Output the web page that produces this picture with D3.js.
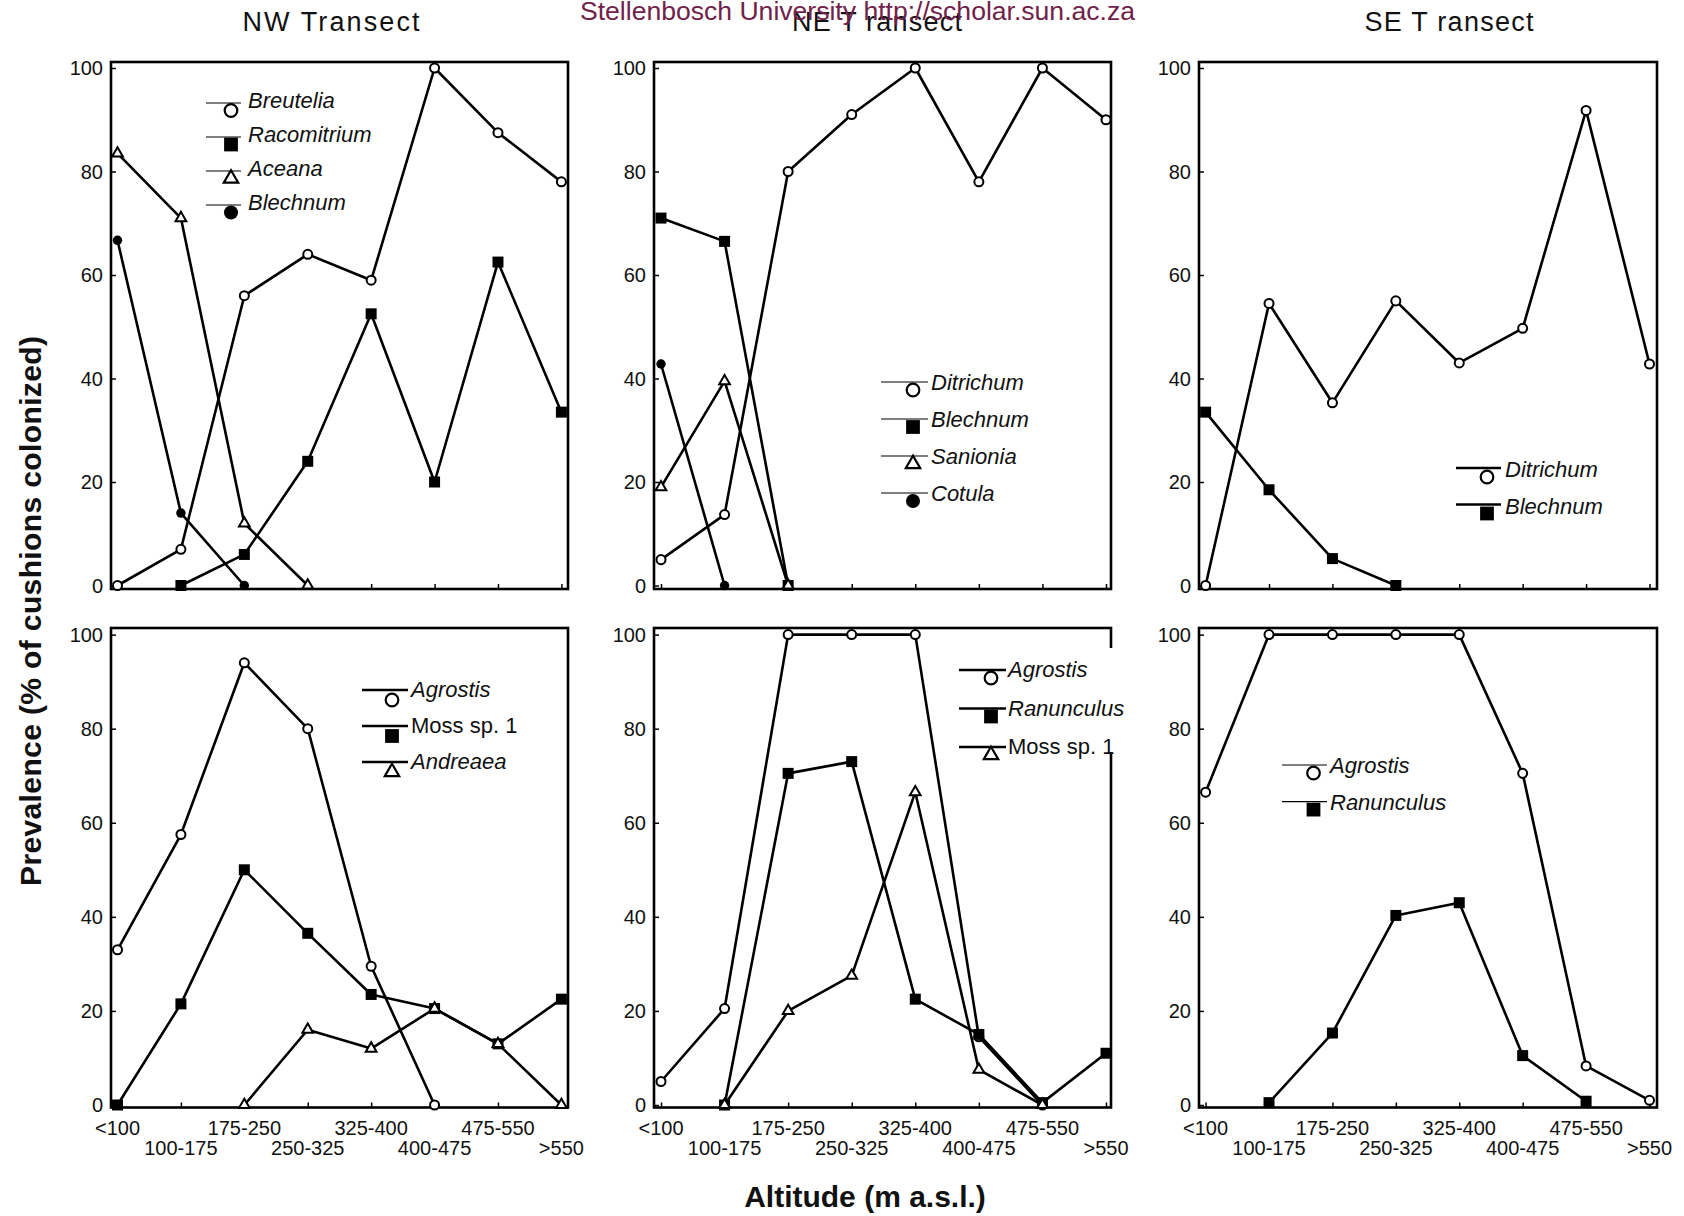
<!DOCTYPE html>
<html>
<head>
<meta charset="utf-8">
<script src="https://cdn.jsdelivr.net/npm/d3@7"></script>
<style>
  html, body { margin: 0; padding: 0; background: #fff; }
  svg { display: block; font-family: "Liberation Sans", Arial, sans-serif; }
</style>
</head>
<body>
<svg id="chart" width="1684" height="1216"></svg>
<script>
// Altitude classes (m a.s.l.) and y ticks shared by all six panels
const altitudes = ['<100', '100-175', '175-250', '250-325', '325-400', '400-475', '475-550', '>550'];
const yTicks = [0, 20, 40, 60, 80, 100];

// NW transect, upper panel (% of cushions colonized)
const nwBreutelia   = [0, 7, 56, 64, 59, 100, 87.5, 78];
const nwRacomitrium = [null, 0, 6, 24, 52.5, 20, 62.5, 33.5];
const nwAceana      = [83.5, 71, 12, 0, null, null, null, null];
const nwBlechnum    = [66.7, 14, 0, null, null, null, null, null];

// NE transect, upper panel
const neDitrichum = [5, 13.7, 80, 91, 100, 78, 100, 90];
const neBlechnum  = [71, 66.5, 0, null, null, null, null, null];
const neSanionia  = [19, 39.5, 0, null, null, null, null, null];
const neCotula    = [42.8, 0, null, null, null, null, null, null];

// SE transect, upper panel
const seDitrichum = [0, 54.5, 35.3, 55, 43, 49.7, 91.8, 42.8];
const seBlechnum  = [33.5, 18.5, 5.2, 0, null, null, null, null];

// NW transect, lower panel
const nwAgrostis = [33, 57.5, 94, 80, 29.5, 0, null, null];
const nwMoss     = [0, 21.5, 50, 36.5, 23.5, 20.5, 13, 22.5];
const nwAndreaea = [null, null, 0, 16, 12, 20.5, 13, 0];

// NE transect, lower panel
const neAgrostis   = [5, 20.5, 100, 100, 100, 14.5, 0, null];
const neRanunculus = [null, 0, 70.5, 73, 22.5, 15, 0.5, 11];
const neMoss       = [null, 0, 20, 27.5, 66.5, 7.5, 0, null];

// SE transect, lower panel
const seAgrostis   = [66.5, 100, 100, 100, 100, 70.5, 8.3, 1];
const seRanunculus = [null, 0.5, 15.3, 40.3, 43, 10.5, 0.8, null];

// ── Layout ──
const rows = [
  { frameY: [62, 589], yRange: [585.5, 68] },
  { frameY: [628, 1107.5], yRange: [1105, 634.6] }
];
const cols = [
  { frameX: [111, 568], xRange: [117.5, 561.4] },
  { frameX: [654, 1111], xRange: [661, 1106] },
  { frameX: [1199, 1657], xRange: [1205.6, 1649.5] }
];

const symbols = {
  openCircle:   { type: d3.symbolCircle,   fill: '#fff', size: 64,  legendSize: 125 },
  filledSquare: { type: d3.symbolSquare,   fill: '#000', size: 121, legendSize: 190 },
  openTriangle: { type: d3.symbolTriangle, fill: '#fff', size: 50,  legendSize: 90 },
  filledCircle: { type: d3.symbolCircle,   fill: '#000', size: 70,  legendSize: 155 }
};

const panels = [
  { row: 0, col: 0, title: 'NW Transect', titleX: 331, titleLen: 177,
    series: [
      { name: 'Breutelia', values: nwBreutelia, symbol: 'openCircle', italic: true },
      { name: 'Racomitrium', values: nwRacomitrium, symbol: 'filledSquare', italic: true },
      { name: 'Aceana', values: nwAceana, symbol: 'openTriangle', italic: true },
      { name: 'Blechnum', values: nwBlechnum, symbol: 'filledCircle', italic: true }
    ],
    legend: { x0: 206, x1: 241, y: 103, step: 34, mx: 231, mdy: 7.5, tx: 248, tdy: 5, lw: 1.2 } },
  { row: 0, col: 1, title: 'NE T ransect', titleX: 877, titleLen: 170,
    series: [
      { name: 'Ditrichum', values: neDitrichum, symbol: 'openCircle', italic: true },
      { name: 'Blechnum', values: neBlechnum, symbol: 'filledSquare', italic: true },
      { name: 'Sanionia', values: neSanionia, symbol: 'openTriangle', italic: true },
      { name: 'Cotula', values: neCotula, symbol: 'filledCircle', italic: true }
    ],
    legend: { x0: 881, x1: 928, y: 382, step: 37, mx: 913, mdy: 8, tx: 931, tdy: 8, lw: 1.2 } },
  { row: 0, col: 2, title: 'SE T ransect', titleX: 1449, titleLen: 169,
    series: [
      { name: 'Ditrichum', values: seDitrichum, symbol: 'openCircle', italic: true },
      { name: 'Blechnum', values: seBlechnum, symbol: 'filledSquare', italic: true }
    ],
    legend: { x0: 1456, x1: 1501, y: 468, step: 36.5, mx: 1487, mdy: 9, tx: 1505, tdy: 9, lw: 2.5 } },
  { row: 1, col: 0,
    series: [
      { name: 'Agrostis', values: nwAgrostis, symbol: 'openCircle', italic: true },
      { name: 'Moss sp. 1', values: nwMoss, symbol: 'filledSquare', italic: false },
      { name: 'Andreaea', values: nwAndreaea, symbol: 'openTriangle', italic: true }
    ],
    legend: { x0: 362, x1: 408, y: 690, step: 36, mx: 392, mdy: 10, tx: 411, tdy: 7, lw: 2.5 } },
  { row: 1, col: 1,
    series: [
      { name: 'Agrostis', values: neAgrostis, symbol: 'openCircle', italic: true },
      { name: 'Ranunculus', values: neRanunculus, symbol: 'filledSquare', italic: true },
      { name: 'Moss sp. 1', values: neMoss, symbol: 'openTriangle', italic: false }
    ],
    legend: { x0: 959, x1: 1006, y: 670, step: 38.5, mx: 991, mdy: 8, tx: 1008, tdy: 7, lw: 2.5,
              box: [955, 648, 185, 104] } },
  { row: 1, col: 2,
    series: [
      { name: 'Agrostis', values: seAgrostis, symbol: 'openCircle', italic: true },
      { name: 'Ranunculus', values: seRanunculus, symbol: 'filledSquare', italic: true }
    ],
    legend: { x0: 1282, x1: 1327, y: 765, step: 36.6, mx: 1313.5, mdy: 8, tx: 1330, tdy: 8, lw: 1.2 } }
];

const svg = d3.select('#chart');

function drawPanel(p) {
  const r = rows[p.row];
  const c = cols[p.col];
  const g = svg.append('g');

  const x = d3.scalePoint().domain(altitudes).range(c.xRange);
  const y = d3.scaleLinear().domain([0, 100]).range(r.yRange);

  // Frame
  g.append('rect')
    .attr('x', c.frameX[0]).attr('y', r.frameY[0])
    .attr('width', c.frameX[1] - c.frameX[0])
    .attr('height', r.frameY[1] - r.frameY[0])
    .attr('fill', 'none').attr('stroke', '#000').attr('stroke-width', 2.6);

  // Y axis: ticks inside the frame, labels outside
  const yAxis = g.append('g').attr('transform', `translate(${c.frameX[0]},0)`)
    .call(d3.axisRight(y).tickValues(yTicks).tickSize(5).tickFormat(''));
  yAxis.select('.domain').remove();
  yAxis.selectAll('line').attr('stroke-width', 1.5);

  g.selectAll('.ylab')
    .data(yTicks)
    .enter()
    .append('text')
    .attr('x', c.frameX[0] - 8)
    .attr('y', d => y(d))
    .attr('dy', '0.36em')
    .attr('text-anchor', 'end')
    .attr('font-size', '20px')
    .attr('fill', '#111')
    .text(d => d);

  // X axis: ticks pointing up from the bottom edge
  const xAxis = g.append('g').attr('transform', `translate(0,${r.frameY[1]})`)
    .call(d3.axisTop(x).tickSize(5).tickFormat(''));
  xAxis.select('.domain').remove();
  xAxis.selectAll('line').attr('stroke-width', 1.5);

  if (p.row === 1) {
    g.selectAll('.xlab')
      .data(altitudes)
      .enter()
      .append('text')
      .attr('x', d => x(d))
      .attr('y', (d, i) => i % 2 === 0 ? 1135 : 1155)
      .attr('text-anchor', 'middle')
      .attr('font-size', '20px')
      .attr('fill', '#111')
      .text(d => d);
  }

  if (p.title) {
    g.append('text')
      .attr('x', p.titleX).attr('y', 31)
      .attr('text-anchor', 'middle')
      .attr('font-size', '27px')
      .attr('textLength', p.titleLen)
      .attr('lengthAdjust', 'spacing')
      .attr('fill', '#111')
      .text(p.title);
  }

  // Lines
  const line = d3.line()
    .defined(d => d.v !== null)
    .x(d => x(d.cat))
    .y(d => y(d.v));

  const pts = p.series.map(s => s.values.map((v, i) => ({ cat: altitudes[i], v })));

  pts.forEach(data => {
    g.append('path')
      .datum(data)
      .attr('fill', 'none')
      .attr('stroke', '#000')
      .attr('stroke-width', 2.6)
      .attr('stroke-linejoin', 'round')
      .attr('d', line);
  });

  // Markers
  p.series.forEach((s, si) => {
    const sym = symbols[s.symbol];
    g.selectAll(`.pt-${si}`)
      .data(pts[si].filter(d => d.v !== null))
      .enter()
      .append('path')
      .attr('transform', d => `translate(${x(d.cat)},${y(d.v)})`)
      .attr('d', d3.symbol().type(sym.type).size(sym.size))
      .attr('fill', sym.fill)
      .attr('stroke', '#000')
      .attr('stroke-width', sym.fill === '#fff' ? 2 : 0);
  });

  // Legend
  const L = p.legend;
  const lg = g.append('g');
  if (L.box) {
    lg.append('rect')
      .attr('x', L.box[0]).attr('y', L.box[1])
      .attr('width', L.box[2]).attr('height', L.box[3])
      .attr('fill', '#fff');
  }
  p.series.forEach((s, i) => {
    const ly = L.y + i * L.step;
    const sym = symbols[s.symbol];
    lg.append('line')
      .attr('x1', L.x0).attr('x2', L.x1)
      .attr('y1', ly).attr('y2', ly)
      .attr('stroke', '#000')
      .attr('stroke-width', L.lw);
    lg.append('path')
      .attr('transform', `translate(${L.mx},${ly + L.mdy})`)
      .attr('d', d3.symbol().type(sym.type).size(sym.legendSize))
      .attr('fill', sym.fill)
      .attr('stroke', '#000')
      .attr('stroke-width', sym.fill === '#fff' ? 2.2 : 0);
    lg.append('text')
      .attr('x', L.tx).attr('y', ly + L.tdy)
      .attr('font-size', '22px')
      .attr('font-style', s.italic ? 'italic' : 'normal')
      .attr('fill', '#111')
      .text(s.name);
  });
}

panels.forEach(drawPanel);

// Axis titles
svg.append('text')
  .attr('transform', 'translate(41,611) rotate(-90)')
  .attr('text-anchor', 'middle')
  .attr('font-size', '30px')
  .attr('font-weight', 'bold')
  .attr('textLength', 550)
  .attr('lengthAdjust', 'spacing')
  .attr('fill', '#111')
  .text('Prevalence (% of cushions colonized)');

svg.append('text')
  .attr('x', 865).attr('y', 1207)
  .attr('text-anchor', 'middle')
  .attr('font-size', '30px')
  .attr('font-weight', 'bold')
  .attr('fill', '#111')
  .text('Altitude (m a.s.l.)');

// Repository watermark across the top (overlaps the NE title, as in the source)
svg.append('text')
  .attr('x', 580).attr('y', 20)
  .attr('font-size', '25px')
  .attr('textLength', 555)
  .attr('lengthAdjust', 'spacingAndGlyphs')
  .attr('fill', '#70224a')
  .text('Stellenbosch University http://scholar.sun.ac.za');
</script>
</body>
</html>
